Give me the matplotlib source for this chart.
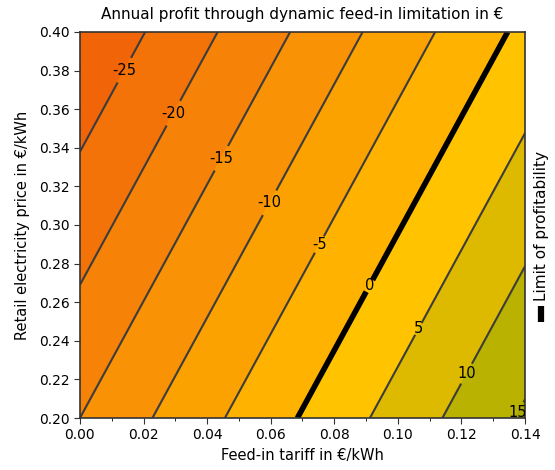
import numpy as np
import matplotlib
matplotlib.use("Agg")
import matplotlib.pyplot as plt
from matplotlib.lines import Line2D
from matplotlib.colors import ListedColormap, BoundaryNorm
from matplotlib.ticker import MultipleLocator, FormatStrFormatter

# Data (profit in EUR at grid corners)
feed_in_tariff = [0.0, 0.14]          # EUR/kWh
retail_price = [0.20, 0.40]           # EUR/kWh
profit = [[-15.0, 15.7],              # retail 0.20
          [-29.5, 1.2]]               # retail 0.40
levels = [-30, -25, -20, -15, -10, -5, 0, 5, 10, 15, 20]
band_colors = ["#f16408", "#f37309", "#f68207", "#f99204", "#fca200",
               "#ffb300", "#ffc300", "#ddba00", "#b9b200", "#aaaa00"]
label_pos = [(0.0142, 0.380), (0.0293, 0.358), (0.0440, 0.335),
             (0.0591, 0.312), (0.0752, 0.290), (0.0916, 0.268),
             (0.1066, 0.246), (0.1227, 0.222), (0.1372, 0.2036)]

plt.rcParams['font.family'] = ['DejaVu Sans']
plt.rcParams['font.size'] = 10

fig = plt.figure(figsize=(5.55, 4.7), dpi=100)
ax = fig.add_axes([0.144, 0.1106, 0.802, 0.8214])

X, Y = np.meshgrid(feed_in_tariff, retail_price)
Z = np.array(profit)

cmap = ListedColormap(band_colors)
norm = BoundaryNorm(levels, cmap.N)
ax.contourf(X, Y, Z, levels=levels, cmap=cmap, norm=norm)

line_levels = [l for l in levels if Z.min() < l < Z.max()]
lws = [4.0 if l == 0 else 1.5 for l in line_levels]
cols = ["black" if l == 0 else "#3c3c3c" for l in line_levels]
cs = ax.contour(X, Y, Z, levels=line_levels, colors=cols, linewidths=lws)
texts = ax.clabel(cs, levels=line_levels, inline=True, fmt="%d", fontsize=10.5,
                  manual=label_pos, colors="black", inline_spacing=2)
for t in texts:
    t.set_rotation(0)

ax.set_xlim(0, 0.14)
ax.set_ylim(0.2, 0.4)
ax.xaxis.set_major_locator(MultipleLocator(0.02))
ax.xaxis.set_minor_locator(MultipleLocator(0.01))
ax.yaxis.set_major_locator(MultipleLocator(0.02))
ax.xaxis.set_major_formatter(FormatStrFormatter("%.2f"))
ax.yaxis.set_major_formatter(FormatStrFormatter("%.2f"))
ax.tick_params(direction="out", length=4, color="#333333", labelsize=10)
ax.tick_params(which="minor", length=2.5)
for s in ax.spines.values():
    s.set_color("#333333")
    s.set_linewidth(1.2)

ax.set_xlabel("Feed-in tariff in €/kWh", labelpad=4, fontsize=10.5)
ax.set_ylabel("Retail electricity price in €/kWh", labelpad=6, fontsize=10.5)
ax.set_title("Annual profit through dynamic feed-in limitation in €",
             fontsize=11, pad=9)

# rotated legend on the right
fig.text(0.975, 0.52, "Limit of profitability", rotation=90,
         ha="center", va="center", fontsize=11)
fig.add_artist(Line2D([0.974, 0.974], [0.315, 0.35], transform=fig.transFigure,
                      color="black", linewidth=4.5, solid_capstyle="butt"))

fig.savefig("out.png", dpi=100)
